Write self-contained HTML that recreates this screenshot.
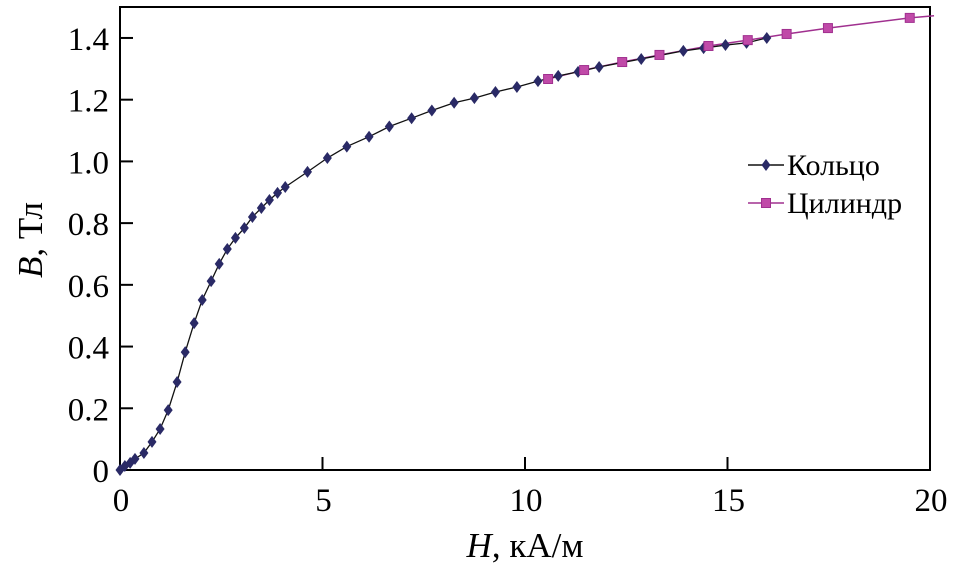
<!DOCTYPE html>
<html><head><meta charset="utf-8"><style>
html,body{margin:0;padding:0;background:#fff;}
svg{display:block;}
svg text{font-family:"Liberation Serif","DejaVu Serif",serif;}
</style></head><body>
<svg id="chart" width="955" height="571" viewBox="0 0 955 571" font-family="Liberation Serif, serif">
<g id="axes"></g><g id="series"></g><g id="legend"></g>
</svg>
<script>
const xTicks=[0,5,10,15,20];
const yTicks=[0,0.2,0.4,0.6,0.8,1.0,1.2,1.4];
const yTickLabels=["0","0.2","0.4","0.6","0.8","1.0","1.2","1.4"];
const ringH=[0,0.12,0.25,0.37,0.59,0.79,0.99,1.19,1.41,1.61,1.83,2.03,2.25,2.45,2.65,2.85,3.07,3.27,3.49,3.69,3.89,4.08,4.63,5.12,5.6,6.15,6.65,7.2,7.7,8.25,8.75,9.27,9.8,10.32,10.82,11.31,11.83,12.87,13.91,14.41,14.95,15.47,15.97];
const ringB=[0,0.013,0.023,0.036,0.055,0.091,0.133,0.194,0.285,0.382,0.476,0.551,0.612,0.668,0.716,0.752,0.784,0.82,0.849,0.875,0.898,0.917,0.966,1.011,1.048,1.08,1.113,1.14,1.165,1.19,1.205,1.225,1.241,1.26,1.277,1.29,1.306,1.332,1.358,1.367,1.377,1.384,1.40];
const cylH=[10.57,11.46,12.4,13.32,14.53,15.5,16.46,17.48,19.5,20.1];
const cylB=[1.267,1.296,1.322,1.345,1.374,1.393,1.413,1.432,1.465,1.472];
const cylMarked=9;
const NS="http://www.w3.org/2000/svg";
const X0=120,X1=930,Y0=470,YT=7;
const FF='"Liberation Serif", serif';
function sx(h){return X0+h*(X1-X0)/20;}
function sy(b){return Y0-b*308.6;}
function mk(tag,attrs,parent){const e=document.createElementNS(NS,tag);for(const k in attrs)e.setAttribute(k,attrs[k]);parent.appendChild(e);return e;}
const axes=document.getElementById('axes'),ser=document.getElementById('series'),leg=document.getElementById('legend');
let r=mk('rect',{x:X0,y:YT,width:X1-X0,height:Y0-YT,fill:'none',stroke:'#000','stroke-width':2},axes);


xTicks.forEach(v=>{
 let t=mk('line',{x1:sx(v),x2:sx(v),y1:Y0,y2:Y0-13,stroke:'#000','stroke-width':2},axes);
 
 
 let l=mk('text',{x:sx(v)+1,y:511,'font-size':33,'font-family':FF,'text-anchor':'middle'},axes);l.textContent=v;
 
 
});
yTicks.forEach((v,i)=>{
 let t=mk('line',{x1:X0,x2:X0+13,y1:sy(v),y2:sy(v),stroke:'#000','stroke-width':2},axes);
 
 
 let l=mk('text',{x:109,y:sy(v)+12,'font-size':33,'font-family':FF,'text-anchor':'end'},axes);l.textContent=yTickLabels[i];
 
 
});
let xt=mk('text',{x:525,y:557,'font-size':35,'font-family':FF,'text-anchor':'middle'},axes);
xt.innerHTML='<tspan font-style="italic">H</tspan>, кА/м';


let yt=mk('text',{x:0,y:0,'font-size':35,'font-family':FF,'text-anchor':'middle',transform:'translate(42,240) rotate(-90)'},axes);
yt.innerHTML='<tspan font-style="italic">B</tspan>, Тл';


const cylColor='#a0308f',ringColor='#2a2a66';
let p1=mk('polyline',{points:cylH.map((h,i)=>sx(h)+','+sy(cylB[i])).join(' '),fill:'none',stroke:cylColor,'stroke-width':1.5},ser);


let p2=mk('polyline',{points:ringH.map((h,i)=>sx(h)+','+sy(ringB[i])).join(' '),fill:'none',stroke:'#111','stroke-width':1.3},ser);


function diamond(x,y,p){return mk('polygon',{points:`${x},${y-6} ${x+4.5},${y} ${x},${y+6} ${x-4.5},${y}`,fill:ringColor},p);}
function square(x,y,p){return mk('rect',{x:x-4.5,y:y-4.5,width:9,height:9,fill:'#c04aa8',stroke:cylColor,'stroke-width':1},p);}
ringH.forEach((h,i)=>{let d=diamond(sx(h),sy(ringB[i]),ser);
 
 });
cylH.slice(0,cylMarked).forEach((h,i)=>{let s=square(sx(h),sy(cylB[i]),ser);
 
 });
let l1=mk('line',{x1:748,x2:784,y1:165,y2:165,stroke:'#111','stroke-width':1.5},leg);


let d1=diamond(766,165,leg);


let t1=mk('text',{x:787,y:175,'font-size':30,'font-family':FF},leg);t1.textContent='Кольцо';


let l2=mk('line',{x1:748,x2:784,y1:203,y2:203,stroke:cylColor,'stroke-width':1.5},leg);


let s2=square(766,203,leg);


let t2=mk('text',{x:787,y:213,'font-size':30,'font-family':FF},leg);t2.textContent='Цилиндр';


</script>
</body></html>
